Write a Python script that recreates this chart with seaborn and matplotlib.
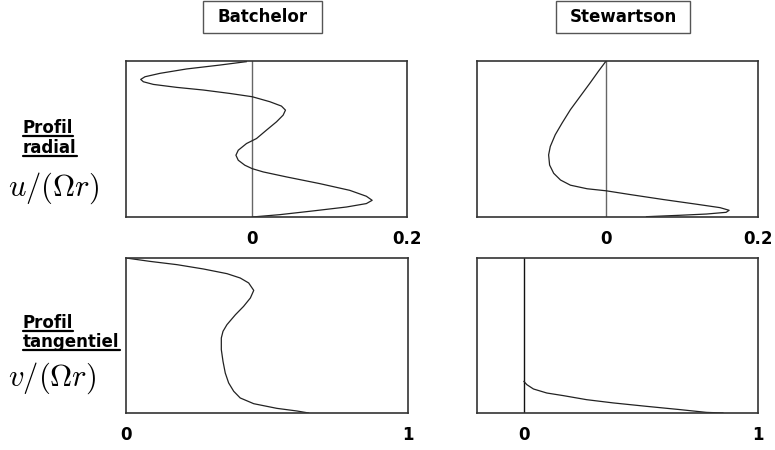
import matplotlib
matplotlib.use("Agg")
import matplotlib.pyplot as plt
import seaborn as sns
from matplotlib.lines import Line2D
from matplotlib.patches import Rectangle

# Hauteur normalisée (0 = paroi, 1 = haut) et profils
z_batch_u = [1.0, 0.996, 0.974, 0.949, 0.921, 0.899, 0.882, 0.867, 0.850, 0.831, 0.814,
             0.792, 0.771, 0.739, 0.711, 0.685, 0.653, 0.610, 0.557, 0.503, 0.471, 0.428,
             0.396, 0.364, 0.332, 0.310, 0.289, 0.257, 0.214, 0.171, 0.133, 0.107, 0.086,
             0.064, 0.039, 0.015, 0.0]
u_batch = [-0.010, -0.0073, -0.0417, -0.0847, -0.119, -0.1385, -0.144, -0.1406, -0.1277,
           -0.0976, -0.0632, -0.0288, 0.0, 0.0228, 0.0378, 0.043, 0.040, 0.0314, 0.0185,
           0.0056, -0.0073, -0.018, -0.021, -0.018, -0.0095, 0.0, 0.0142, 0.0443, 0.0873,
           0.126, 0.1475, 0.155, 0.1475, 0.1217, 0.0787, 0.0357, 0.0]

z_stew_u = [1.0, 0.935, 0.860, 0.774, 0.688, 0.602, 0.527, 0.452, 0.398, 0.333, 0.280,
            0.237, 0.204, 0.181, 0.168, 0.144, 0.112, 0.082, 0.060, 0.043, 0.030, 0.019,
            0.011, 0.002]
u_stew = [0.0, -0.010, -0.021, -0.034, -0.047, -0.058, -0.067, -0.0735, -0.0757, -0.0744,
          -0.069, -0.060, -0.047, -0.025, 0.0, 0.0315, 0.0753, 0.119, 0.150, 0.162, 0.158,
          0.132, 0.097, 0.053]

z_batch_v = [1.0, 0.978, 0.957, 0.929, 0.899, 0.871, 0.839, 0.791, 0.742, 0.688, 0.634,
             0.570, 0.527, 0.484, 0.409, 0.333, 0.258, 0.194, 0.140, 0.097, 0.060, 0.030,
             0.013, 0.0]
v_batch = [0.0, 0.086, 0.181, 0.275, 0.358, 0.405, 0.435, 0.453, 0.441, 0.417, 0.388,
           0.358, 0.344, 0.338, 0.338, 0.344, 0.352, 0.364, 0.382, 0.405, 0.453, 0.535,
           0.606, 0.648]

z_stew_v = [0.204, 0.183, 0.155, 0.129, 0.112, 0.086, 0.065, 0.043, 0.022, 0.004, 0.0]
v_stew = [0.0, 0.0128, 0.041, 0.098, 0.169, 0.268, 0.382, 0.524, 0.666, 0.780, 0.851]

titres_colonnes = ["Batchelor", "Stewartson"]
lignes_1 = ["Profil", "Profil"]
lignes_2 = ["radial", "tangentiel"]
formules = [r"$u/(\Omega r)$", r"$v/(\Omega r)$"]
ticks_u = [0, 0.2]
ticks_v = [0, 1]
labels_u = ["0", "0.2"]
labels_v = ["0", "1"]

sns.set_style("white")
plt.rcParams["font.family"] = ["DejaVu Sans"]
plt.rcParams["mathtext.fontset"] = "cm"
plt.rcParams["text.color"] = "black"
plt.rcParams["xtick.color"] = "black"

W, H = 775, 450
fig = plt.figure(figsize=(W / 100, H / 100), dpi=100)


def px_axes(x0, y0, x1, y1):
    # boîte en pixels (origine en haut à gauche) -> coordonnées figure
    return [x0 / W, 1 - y1 / H, (x1 - x0) / W, (y1 - y0) / H]


def fx_panneau(rect, x, z, xlim, ticks, labels, ligne_zero=True, couleur_zero="#666666"):
    ax = fig.add_axes(rect)
    if ligne_zero:
        ax.axvline(0, color=couleur_zero, lw=1.0, zorder=1)
    sns.lineplot(x=x, y=z, sort=False, estimator=None, color="#222222", lw=0.9, ax=ax, zorder=2)
    ax.set_xlim(*xlim)
    ax.set_ylim(0, 1)
    ax.set_xticks(ticks)
    ax.set_xticklabels(labels, fontsize=12, fontweight="bold", color="black")
    ax.set_yticks([])
    ax.tick_params(axis="x", length=0, pad=9)
    ax.set_xlabel("")
    ax.set_ylabel("")
    for s in ax.spines.values():
        s.set_visible(True)
        s.set_color("#333333")
        s.set_linewidth(1.2)
    return ax


fx_panneau(px_axes(126, 61, 407, 217), u_batch, z_batch_u, (-0.163, 0.2), ticks_u, labels_u)
fx_panneau(px_axes(477, 61, 758, 217), u_stew, z_stew_u, (-0.17, 0.2), ticks_u, labels_u)
fx_panneau(px_axes(126, 258, 408, 413), v_batch, z_batch_v, (0, 1), ticks_v, labels_v, ligne_zero=False)
fx_panneau(px_axes(477, 258, 758, 413), v_stew, z_stew_v, (-0.2, 1), ticks_v, labels_v, couleur_zero="#111111")

# titres de colonnes encadrés
for titre, (x0, x1) in zip(titres_colonnes, [(203, 322), (556, 690)]):
    fig.patches.append(Rectangle((x0 / W, 1 - 33 / H), (x1 - x0) / W, 32 / H,
                                 transform=fig.transFigure, fill=False,
                                 edgecolor="#555555", lw=1.0))
    fig.text((x0 + x1) / 2 / W, 1 - 17 / H, titre, ha="center", va="center",
             fontsize=12, fontweight="bold", color="black")

# libellés des lignes
textes = []
for l1, l2, f, (b1, b2, b3) in zip(lignes_1, lignes_2, formules, [(133, 153, 196), (328, 347, 386)]):
    t1 = fig.text(23 / W, 1 - b1 / H, l1, ha="left", va="baseline", fontsize=12,
                  fontweight="bold", color="black")
    t2 = fig.text(23 / W, 1 - b2 / H, l2, ha="left", va="baseline", fontsize=12,
                  fontweight="bold", color="black")
    fig.text(8 / W, 1 - b3 / H, f, ha="left", va="baseline", fontsize=22, color="black")
    textes += [(t1, b1), (t2, b2)]

# soulignement
fig.canvas.draw()
rend = fig.canvas.get_renderer()
for t, b in textes:
    bb = t.get_window_extent(rend)
    y = 1 - (b + 3) / H
    fig.add_artist(Line2D([bb.x0 / W, bb.x1 / W], [y, y], transform=fig.transFigure,
                          color="black", lw=1.6))

fig.savefig("out.png", dpi=100)
